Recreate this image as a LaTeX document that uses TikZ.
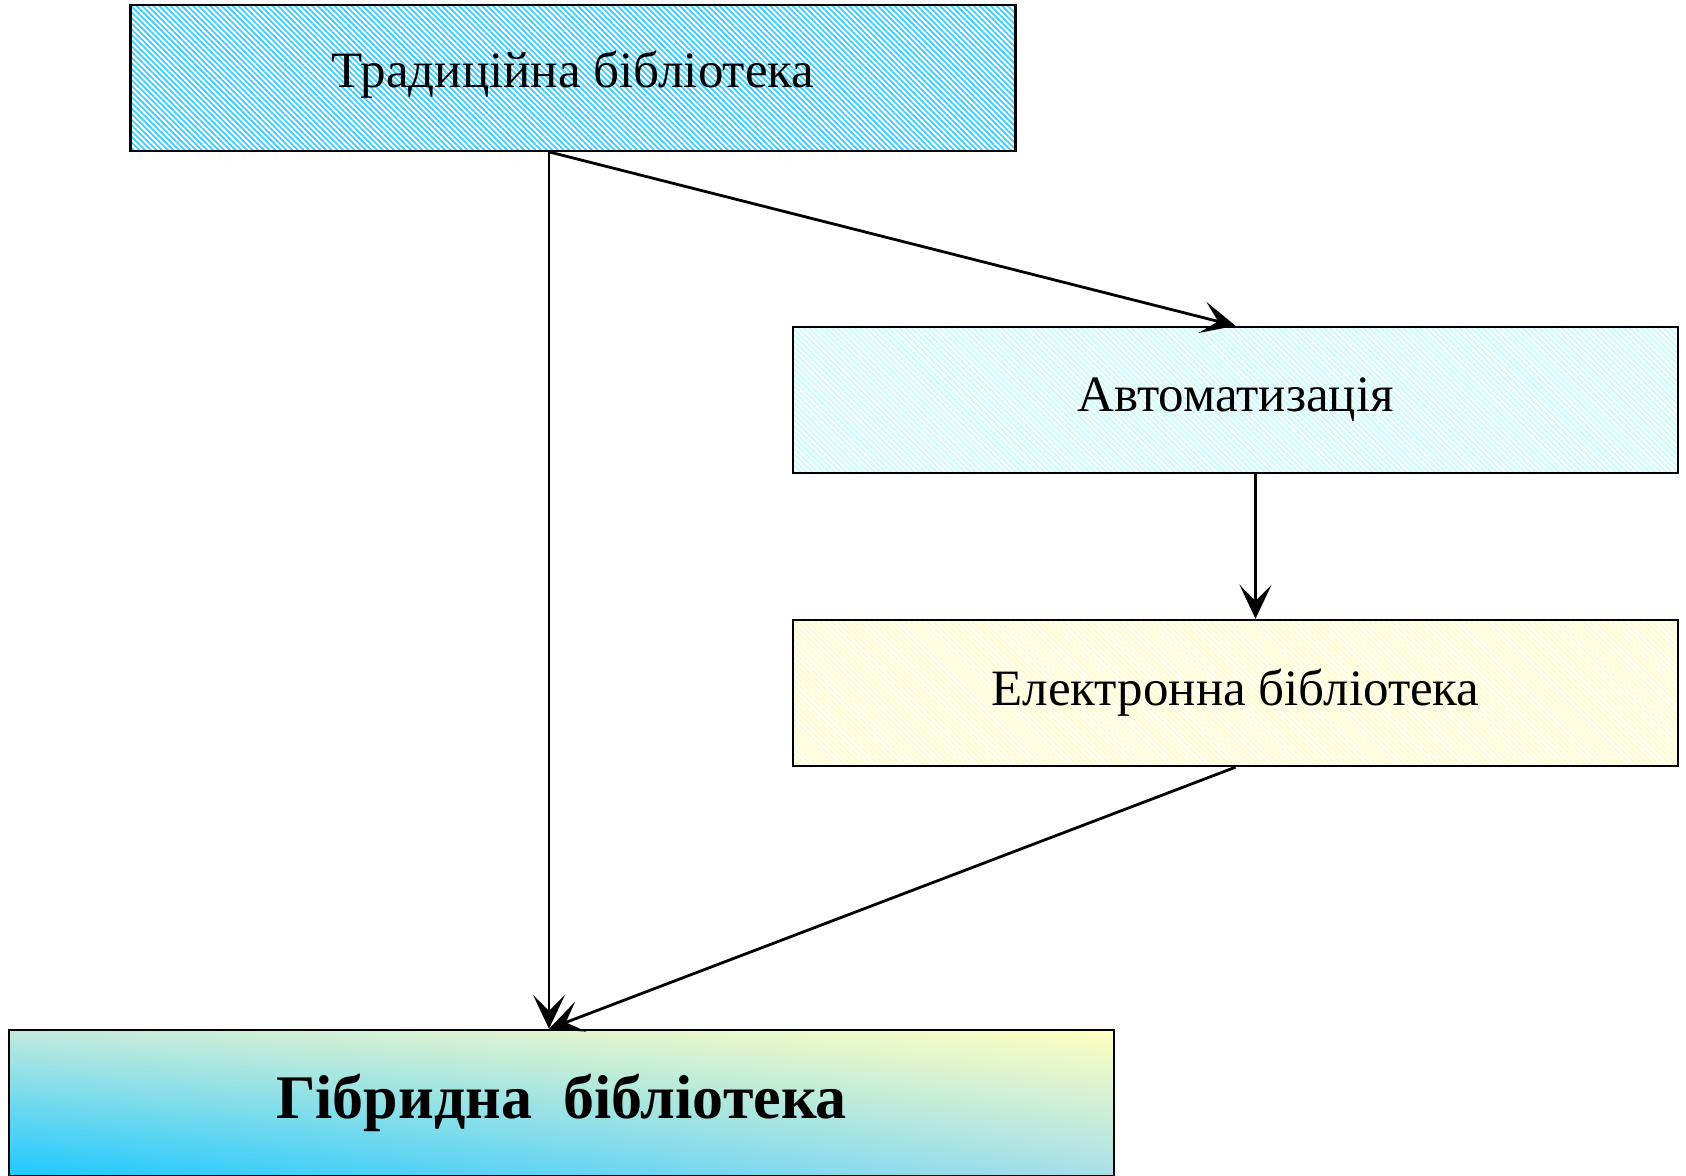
\documentclass[tikz,border=0pt]{standalone}
\usepackage{fontspec}
\setmainfont{Liberation Serif}
\usetikzlibrary{patterns.meta,shadings,arrows.meta}
\definecolor{hatchA}{HTML}{3DCEFF}
\definecolor{hatchB}{HTML}{C8FCFC}
\definecolor{hatchC}{HTML}{FFFCC4}
\definecolor{gLL}{HTML}{1CC8FF}
\definecolor{gUL}{HTML}{C2EADE}
\definecolor{gUR}{HTML}{FFFFC0}
\definecolor{gLR}{HTML}{A8E0EA}
\tikzset{
  box/.style={draw=black, line width=1.2pt, inner sep=0pt, minimum width=442.5pt, minimum height=73pt, font=\fontsize{25.5pt}{30pt}\selectfont},
  hatch/.style={preaction={fill=white}, pattern={Lines[angle=-45,distance=2pt,line width=0.9pt]}, pattern color=#1},
  conn/.style={line width=1.4pt, -{Stealth[length=17pt,width=16pt,inset=8pt]}},
}
\begin{document}
\begin{tikzpicture}[x=0.5pt,y=-0.5pt]
\useasboundingbox (0,0) rectangle (1686,1176);
\node[box, hatch=hatchA] (t) at (573,78) {\raisebox{1pt}[18pt][6pt]{Традиційна бібліотека}};
\node[box, hatch=hatchB] (a) at (1235.5,400) {Автоматизація};
\node[box, hatch=hatchC] (e) at (1235.5,693) {Електронна бібліотека};
\node[box, minimum width=552.5pt, shading=bilinear interpolation, lower left=gLL, upper left=gUL, upper right=gUR, lower right=gLR, font=\bfseries\fontsize{31pt}{36pt}\selectfont] (h) at (561.5,1103) {Гібридна\ \ бібліотека};
\coordinate (a1) at ([xshift=-12pt]t.south);
\coordinate (ht) at (a1 |- h.north);
\draw[conn] (a1) -- (ht);
\draw[conn] (a1) -- (a.north);
\draw[conn] ([xshift=10pt]a.south) -- ([xshift=10pt]e.north);
\draw[conn] (e.south) -- (ht);
\end{tikzpicture}
\end{document}
